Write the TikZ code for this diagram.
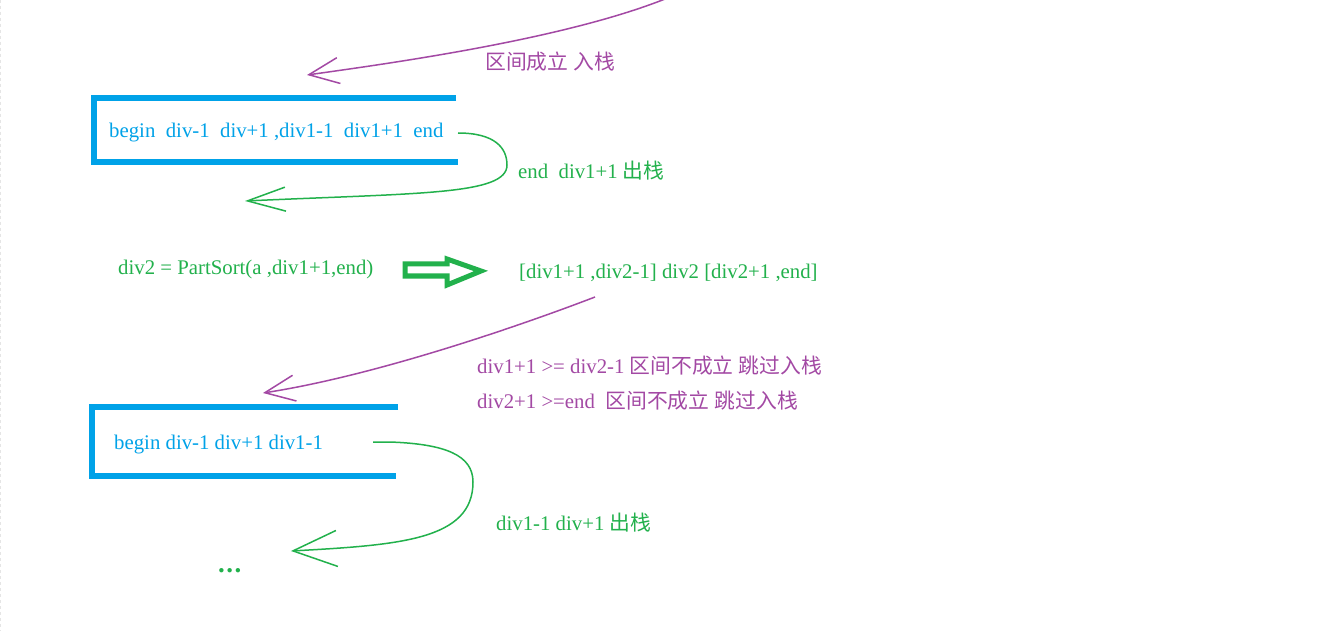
\documentclass[tikz,border=0pt]{standalone}
\usepackage{fontspec}
\setmainfont{Liberation Serif}
\newfontfamily\cjk{Noto Sans CJK SC}
\usepackage{tikz}
\usetikzlibrary{arrows.meta}

\definecolor{stackblue}{RGB}{0,162,232}
\definecolor{popgreen}{RGB}{34,177,76}
\definecolor{pushpurple}{RGB}{163,73,164}
\newcommand{\notesize}{\fontsize{20.8pt}{25pt}\selectfont}

\tikzset{
  txt/.style={inner sep=0pt, anchor=base west, font=\notesize},
  bluetxt/.style={txt, text=stackblue},
  greentxt/.style={txt, text=popgreen},
  purpletxt/.style={txt, text=pushpurple},
  stackbox/.style={stackblue, line width=6pt},
  poparrow/.style={popgreen, line width=1.5pt, -{Straight Barb[length=38pt,width=24pt]}},
  pusharrow/.style={pushpurple, line width=1.5pt, -{Straight Barb[length=30pt,width=26pt]}}
}

\begin{document}
\begin{tikzpicture}[x=1pt,y=-1pt]
    \useasboundingbox (0,0) rectangle (1331,631);
    \fill[white] (0,0) rectangle (1331,631);
    \draw[gray!20, dashed, line width=1pt] (0.5,0) -- (0.5,631);
    % First stack
    \coordinate (b1tr) at (456,98);
    \coordinate (b1tl) at (94,98);
    \coordinate (b1bl) at (94,162);
    \coordinate (b1br) at (458,162);
    \draw[stackbox] (b1tr) -- (b1tl) -- (b1bl) -- (b1br);
    \node[bluetxt] (stack1) at (109,138) {begin~~div-1~~div+1 ,div1-1~~div1+1~~end};
    % Push label at the top
    \node[purpletxt] (push1) at (485,70) {{\cjk 区间成立} {\cjk 入栈}};
    \coordinate (pushS) at (670,-3);
    \coordinate (pushE) at (307,75);
    \draw[pusharrow] (pushS) .. controls (570,38) and (400,62) .. (pushE);
    % Pop of the right part
    \node[greentxt] (pop1) at (518,179) {end~~div1+1 {\cjk 出栈}};
    \coordinate (pop1S) at (458,133);
    \coordinate (pop1E) at (245,201);
    \draw[poparrow] (pop1S) .. controls (495,133) and (507,148) .. (507,165)
        .. controls (507,195) and (420,193) .. (pop1E);
    % Partition step
    \node[greentxt] (sort) at (118,275) {div2 = PartSort(a ,div1+1,end)};
    \node[greentxt] (split) at (519,278) {{[}div1+1 ,div2-1] div2 [div2+1 ,end]};
    \draw[popgreen, line width=5pt, line join=miter]
        (405,264) -- (447,264) -- (447,259) -- (481,271) -- (447,285) -- (447,276) -- (405,276) -- cycle;
    % Both parts are skipped
    \node[purpletxt] (skip1) at (477,373) {div1+1 >= div2-1 {\cjk 区间不成立} {\cjk 跳过入栈}};
    \node[purpletxt] (skip2) at (477,408) {div2+1 >=end~~{\cjk 区间不成立} {\cjk 跳过入栈}};
    \coordinate (skipS) at (595,297);
    \coordinate (skipE) at (263,393);
    \draw[pusharrow] (skipS) .. controls (530,322) and (380,375) .. (skipE);
    % Second stack
    \coordinate (b2tr) at (398,407);
    \coordinate (b2tl) at (92,407);
    \coordinate (b2bl) at (92,475.5);
    \coordinate (b2br) at (396,475.5);
    \draw[stackbox] (b2tr) -- (b2tl) -- (b2bl) -- (b2br);
    \node[bluetxt] (stack2) at (114,449) {begin div-1 div+1 div1-1};
    % Pop of the left part
    \node[greentxt] (pop2) at (496,530) {div1-1 div+1 {\cjk 出栈}};
    \coordinate (pop2S) at (373,442);
    \coordinate (pop2E) at (291,551);
    \draw[poparrow, -{Straight Barb[length=44pt,width=36pt]}] (pop2S) -- (390,442)
        .. controls (445,444) and (473,455) .. (473,482)
        .. controls (473,540) and (400,545) .. (pop2E);
    \node[greentxt, font=\fontsize{27pt}{30pt}\selectfont\bfseries] (more) at (218,572) {.\kern1.5pt.\kern1.5pt.};
\end{tikzpicture}
\end{document}
